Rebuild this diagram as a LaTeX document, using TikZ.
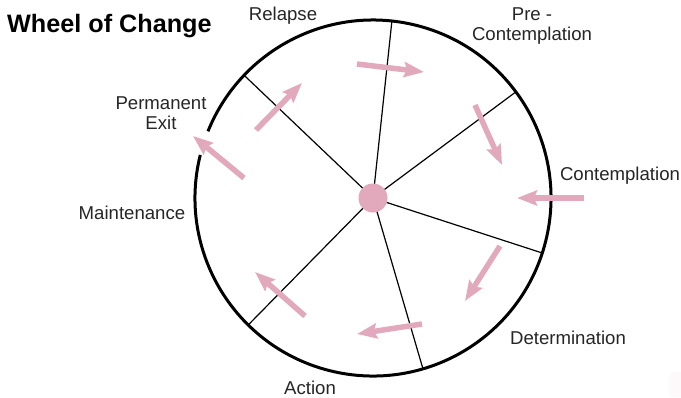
\documentclass[tikz,border=0pt]{standalone}
\usepackage{fontspec}
\setmainfont{Liberation Sans}
\usetikzlibrary{arrows.meta}
\definecolor{wpink}{HTML}{E2A9BD}
\definecolor{wtext}{HTML}{262626}
\tikzset{
  lbl/.style={font=\fontsize{18.6}{20}\selectfont, text=wtext, align=center, inner sep=0pt},
  flow/.style={draw=wpink, line width=5.5pt, -{Stealth[length=20pt,width=15pt,inset=3pt]}},
  spoke/.style={draw=black, line width=1.2pt},
  rim/.style={draw=black, line width=3pt}
}
\begin{document}
\begin{tikzpicture}[x=1pt,y=1pt]
\useasboundingbox (0,0) rectangle (681,-397);
\fill[fill=white] (0,0) rectangle (681,-397);
\fill[fill=wpink!8] (670,-372) rectangle (681,-397);
\coordinate (c) at (373,-198);
% rim with a gap
\draw[rim] ([shift={(166:178)}]c) arc[start angle=166, end angle=518, radius=178];
% spokes
\foreach \a/\n in {136.4/s1, 83.9/s2, 36.6/s3, -18/s4, -73.7/s5, 225.5/s6}{
  \coordinate (\n) at ([shift={(\a:178)}]c);
  \draw[spoke] (c) -- (\n);
}
\node[circle, fill=wpink, minimum size=29pt, inner sep=0pt] (hub) at (c) {};
% arrows
\coordinate (a1s) at (256,-130); \coordinate (a1e) at (302,-83);
\coordinate (a2s) at (357,-64);  \coordinate (a2e) at (424,-72);
\coordinate (a3s) at (475,-105); \coordinate (a3e) at (502,-165);
\coordinate (a4s) at (584,-198); \coordinate (a4e) at (517,-198);
\coordinate (a5s) at (500,-246); \coordinate (a5e) at (465,-301);
\coordinate (a6s) at (422,-324); \coordinate (a6e) at (357,-334);
\coordinate (a7s) at (305,-316); \coordinate (a7e) at (255,-272);
\coordinate (a8s) at (244,-178); \coordinate (a8e) at (193,-136);
\foreach \i in {1,...,8}{ \draw[flow] (a\i s) -- (a\i e); }
% labels
\node[anchor=base west, inner sep=0pt, font=\fontsize{25.2}{28}\selectfont\bfseries] (title) at (7,-32) {Wheel of Change};
\node[lbl] (relapse) at (283,-16) {Relapse};
\node[lbl] (pre) at (532,-26) {Pre -\\Contemplation};
\node[lbl] (cont) at (620,-176) {Contemplation};
\node[lbl] (det) at (568,-338) {Determination};
\node[lbl, anchor=base] (act) at (310,-394) {Action};
\node[lbl] (maint) at (132,-213) {Maintenance};
\node[lbl] (exit) at (161,-113) {Permanent\\Exit};
\end{tikzpicture}
\end{document}
